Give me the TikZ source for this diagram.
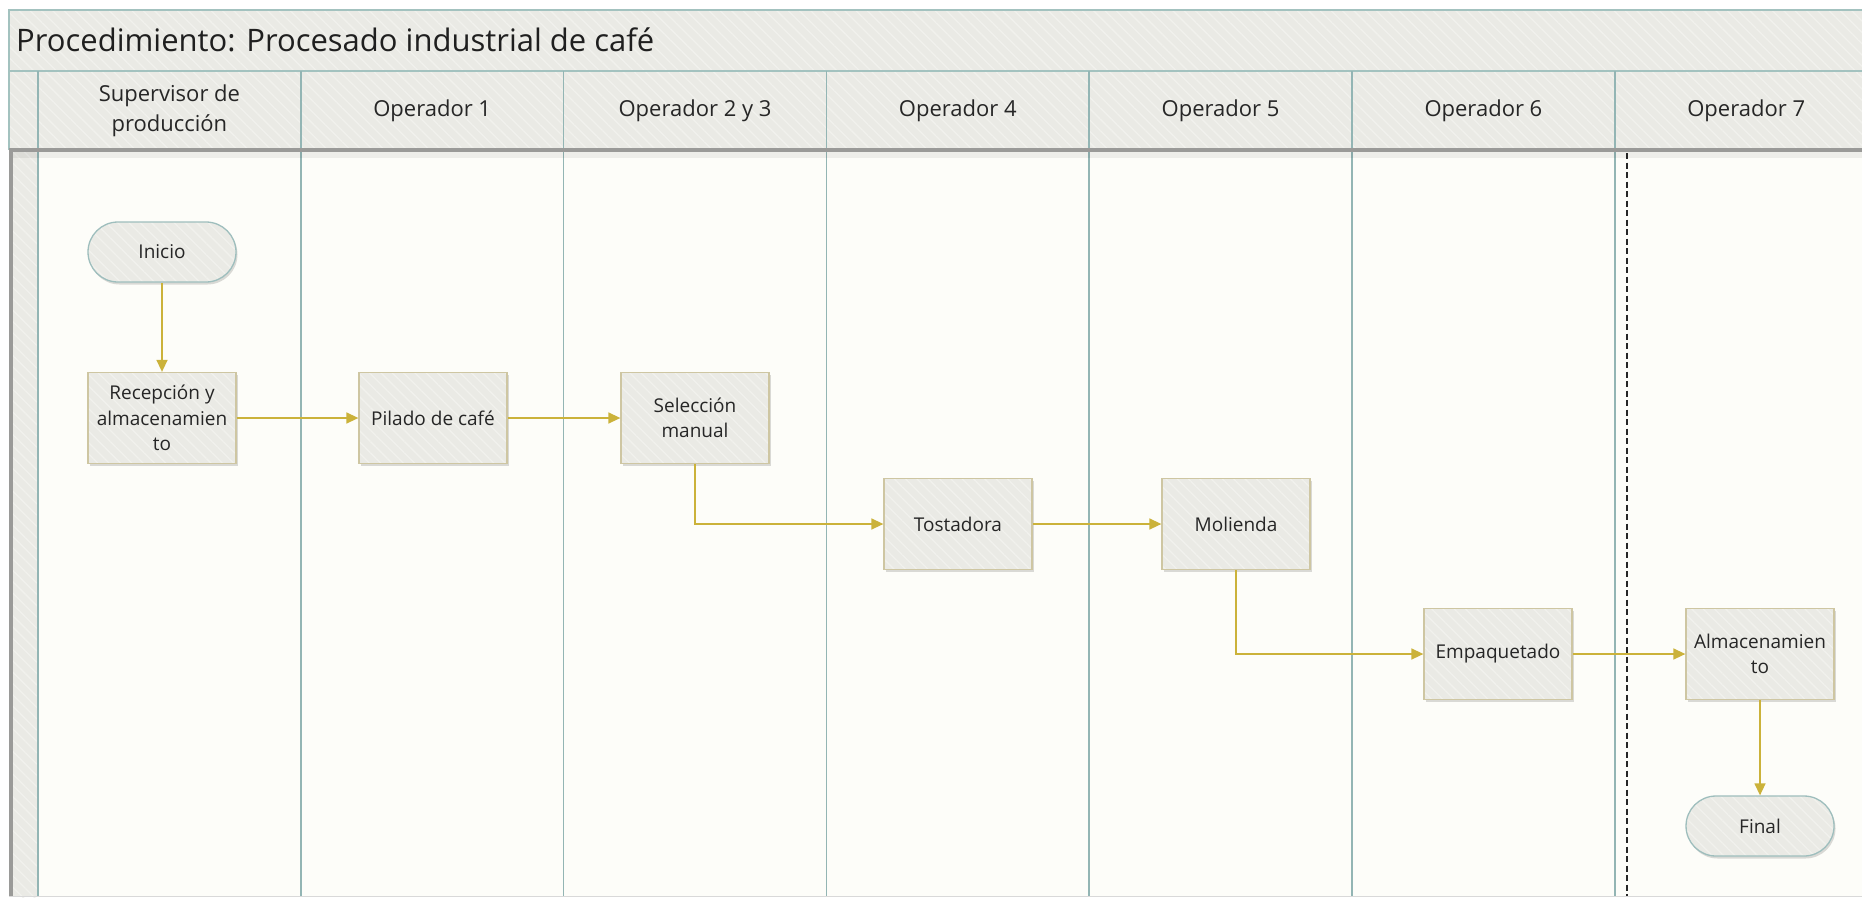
\documentclass[tikz,border=0pt]{standalone}
\usepackage{fontspec}
\setmainfont{Open Sans}
\usetikzlibrary{arrows.meta,patterns.meta,shadows}

\definecolor{lanebg}{HTML}{FDFDF9}
\definecolor{hdrfill}{HTML}{EAEAE5}
\definecolor{hatchline}{HTML}{F1F1ED}
\definecolor{laneline}{HTML}{93B5B4}
\definecolor{frameline}{HTML}{A3C2BF}
\definecolor{boxline}{HTML}{CEC6A2}
\definecolor{termline}{HTML}{9EBEBD}
\definecolor{flowcol}{HTML}{CBB23A}
\definecolor{sepgray}{HTML}{9A9A98}

\newcommand\nodetxt{\fontsize{19}{25.5}\selectfont}
\newcommand\hdrtxt{\fontsize{22}{30}\selectfont}
\newcommand\titletxt{\fontsize{31}{38}\selectfont}

\tikzset{
  hatched/.style={preaction={fill=hdrfill},
    pattern={Lines[angle=-45,distance=8pt,line width=1.3pt]},
    pattern color=hatchline},
  boxshadow/.style={drop shadow={shadow xshift=1.5pt,shadow yshift=-2.5pt,
    fill=black,opacity=0.14}},
  procbox/.style={rectangle, draw=boxline, line width=1.3pt, boxshadow, hatched,
    minimum width=148pt, minimum height=91pt, inner sep=0pt, align=center,
    font=\nodetxt, text=black!85},
  termbox/.style={rectangle, rounded corners=30pt, draw=termline, line width=1.3pt,
    boxshadow, hatched, minimum width=148pt, minimum height=60pt, inner sep=0pt,
    align=center, font=\nodetxt, text=black!85},
  lanehead/.style={align=center, font=\hdrtxt, text=black!85, inner sep=0pt},
  lanesep/.style={draw=laneline, line width=1.6pt},
  flow/.style={draw=flowcol, line width=1.5pt,
    -{Triangle[length=12pt,width=11pt]}}
}

\begin{document}
\begin{tikzpicture}[x=1pt,y=-1pt]
\useasboundingbox (0,0) rectangle (1862,897);
\fill[white] (0,0) rectangle (1862,897);

% pool frame: title bar, lane headers, lane bodies
\fill[lanebg] (38,150) rectangle (1880,897);
\path[hatched] (9,10) rectangle (1880,71);
\path[hatched] (9,71) rectangle (1880,150);
\path[hatched] (13,150) rectangle (38,897);
\draw[frameline, line width=1.4pt] (1880,10) -- (9,10) -- (9,150);
\draw[frameline, line width=1.4pt] (9,71) -- (1880,71);

% lane separators
\foreach \lx in {38,300.8,563.6,826.4,1089.2,1352,1614.8}
  \draw[lanesep] (\lx,71) -- (\lx,897);

% phase separator
\draw[black!85, line width=1.2pt, dash pattern=on 6pt off 3.5pt] (1627,153) -- (1627,897);

% heavy rules under the header and along the left edge
\fill[black, opacity=0.06] (9,152) rectangle (1880,158);
\draw[sepgray, line width=4pt] (9,150) -- (1880,150);
\draw[sepgray, line width=4pt] (11,148) -- (11,897);
\draw[black!15, line width=1pt] (9,896.5) -- (1880,896.5);

% title
\node[anchor=west, font=\titletxt, text=black!88, inner sep=0pt] (title) at (16,40)
  {Procedimiento: Procesado industrial de café};

% lane headers
\node[lanehead] (h1) at (169.4,111) {Supervisor de\\producción};
\node[lanehead] (h2) at (432.2,111) {Operador 1};
\node[lanehead] (h3) at (695.0,111) {Operador 2 y 3};
\node[lanehead] (h4) at (957.8,111) {Operador 4};
\node[lanehead] (h5) at (1220.6,111) {Operador 5};
\node[lanehead] (h6) at (1483.4,111) {Operador 6};
\node[lanehead] (h7) at (1746.2,111) {Operador 7};

% process steps
\node[termbox] (inicio) at (162,252) {Inicio};
\node[procbox] (recep)  at (162,418) {Recepción y\\almacenamien\\to};
\node[procbox] (pilado) at (433,418) {Pilado de café};
\node[procbox] (selec)  at (695,418) {Selección\\manual};
\node[procbox] (tost)   at (958,524) {Tostadora};
\node[procbox] (moli)   at (1236,524) {Molienda};
\node[procbox] (empaq)  at (1498,654) {Empaquetado};
\node[procbox] (almac)  at (1760,654) {Almacenamien\\to};
\node[termbox] (final)  at (1760,826) {Final};

% flow
\draw[flow] (inicio) -- (recep);
\draw[flow] (recep) -- (pilado);
\draw[flow] (pilado) -- (selec);
\draw[flow] (selec.south) |- (tost.west);
\draw[flow] (tost) -- (moli);
\draw[flow] (moli.south) |- (empaq.west);
\draw[flow] (empaq) -- (almac);
\draw[flow] (almac) -- (final);
\end{tikzpicture}
\end{document}
